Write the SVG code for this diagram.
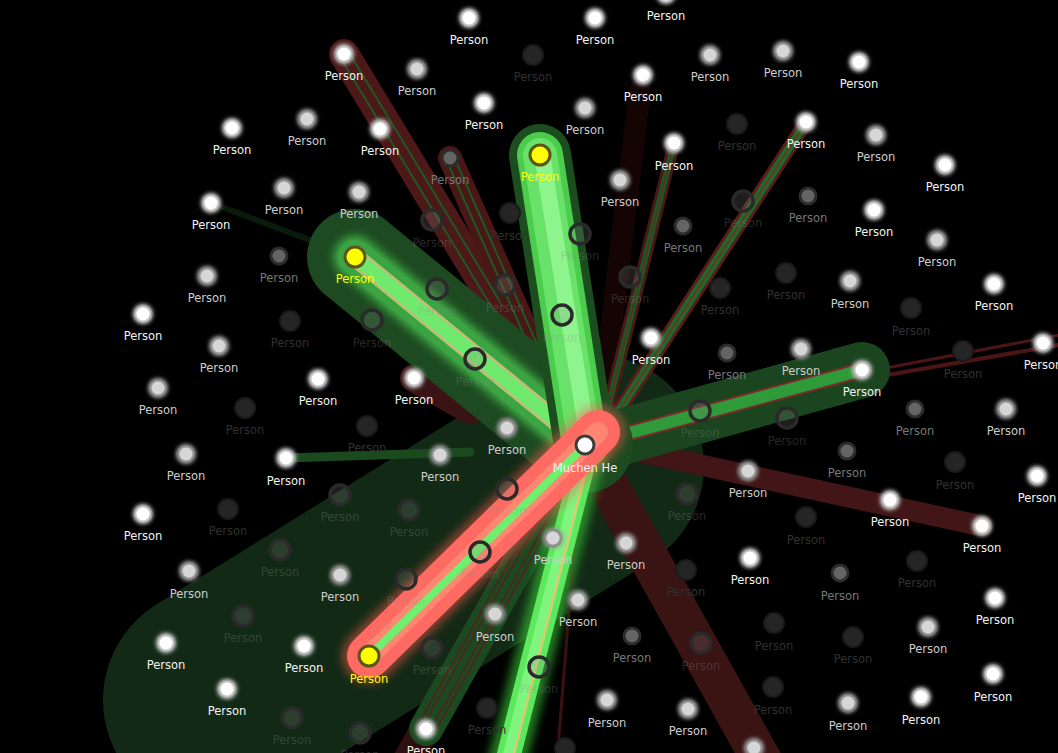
<svg xmlns="http://www.w3.org/2000/svg" width="1058" height="753" viewBox="0 0 1058 753">
<defs>
<filter id="glow" x="-1.5" y="-1.5" width="4" height="4"><feGaussianBlur in="SourceGraphic" stdDeviation="2.5" result="b"/><feMerge><feMergeNode in="b"/><feMergeNode in="b"/><feMergeNode in="SourceGraphic"/></feMerge></filter>
<filter id="blur" x="-0.5" y="-0.5" width="2" height="2"><feGaussianBlur stdDeviation="5"/></filter>
</defs>
<style>
text{font-family:"DejaVu Sans","Liberation Sans",sans-serif;font-size:11.5px;text-anchor:middle}
.w circle{fill:#fff;stroke:#9a9a9a;stroke-opacity:.55;stroke-width:3;filter:url(#glow)}
.w text{fill:#f2f2f2}
.l circle{fill:#d6d6d6;stroke:#707070;stroke-opacity:.6;stroke-width:3;filter:url(#glow)}
.l text{fill:#cdcdcd}
.m circle{fill:#646464;stroke:#2c2c2c;stroke-width:3}
.m text{fill:#777}
.d circle{fill:#252525;stroke:#1a1a1a;stroke-width:2}
.d text{fill:#303030}
.r circle{fill:#8a8a8a;fill-opacity:.22;stroke:#2a2a2a;stroke-width:3.5}
.r text{fill:#8a8a8a;fill-opacity:.3}
.y circle{fill:#ff0;stroke:#5c5516;stroke-width:3}
.y text{fill:#ff0}
.c circle{fill:#fff;stroke:#3c3c3c;stroke-width:3}
.c text{fill:#f2f2f2}
#connectors line{stroke-linecap:round}
</style>
<rect width="1058" height="753" fill="#000"/>
<g id="connectors">
<line x1="215" y1="700" x2="592" y2="466" stroke="#122a15" stroke-width="224"/>
<line x1="211" y1="203" x2="355" y2="257" stroke="#0a1a0c" stroke-width="6"/>
<line x1="640" y1="90" x2="600" y2="420" stroke="#140404" stroke-width="22"/>
<line x1="600" y1="470" x2="770" y2="775" stroke="#3a1313" stroke-width="40"/>
<line x1="578" y1="500" x2="557" y2="760" stroke="#3a1010" stroke-width="3"/>
<line x1="400" y1="775" x2="560" y2="480" stroke="#2e1010" stroke-width="30"/>
<line x1="595" y1="442" x2="982" y2="526" stroke="#421616" stroke-width="21"/>
<line x1="870" y1="378" x2="1070" y2="343" stroke="#4a1515" stroke-width="4"/>
<line x1="870" y1="371" x2="1070" y2="333" stroke="#4a1515" stroke-width="3"/>
<line x1="344" y1="54" x2="578" y2="440" stroke="#4d1818" stroke-width="30"/>
<line x1="348.3" y1="51.4" x2="582.3" y2="437.4" stroke="#1d5a25" stroke-width="2"/>
<line x1="339.7" y1="56.6" x2="573.7" y2="442.6" stroke="#1d5a25" stroke-width="2"/>
<line x1="450" y1="158" x2="575" y2="440" stroke="#4a1717" stroke-width="24"/>
<line x1="453.7" y1="156.4" x2="578.7" y2="438.4" stroke="#1d5a25" stroke-width="2"/>
<line x1="446.3" y1="159.6" x2="571.3" y2="441.6" stroke="#1d5a25" stroke-width="2"/>
<line x1="414" y1="378" x2="470" y2="410" stroke="#3a1414" stroke-width="28"/>
<line x1="806" y1="122" x2="600" y2="440" stroke="#5a1d1d" stroke-width="14"/>
<line x1="806" y1="122" x2="600" y2="440" stroke="#1e6a28" stroke-width="8"/>
<line x1="806" y1="122" x2="600" y2="440" stroke="#7a2a2a" stroke-width="1.5"/>
<line x1="674" y1="143" x2="600" y2="440" stroke="#4a1818" stroke-width="12"/>
<line x1="674" y1="143" x2="600" y2="440" stroke="#1a5a22" stroke-width="6"/>
<line x1="674" y1="143" x2="600" y2="440" stroke="#6a2424" stroke-width="1.2"/>
<line x1="426" y1="729" x2="585" y2="445" stroke="#1b4a20" stroke-width="34"/>
<line x1="429.5" y1="731" x2="588.5" y2="447" stroke="#5a1d1d" stroke-width="1.5"/>
<line x1="422.5" y1="727" x2="581.5" y2="443" stroke="#5a1d1d" stroke-width="1.5"/>
<line x1="433.8" y1="733.4" x2="592.8" y2="449.4" stroke="#5a1d1d" stroke-width="1.5"/>
<line x1="418.2" y1="724.6" x2="577.2" y2="440.6" stroke="#5a1d1d" stroke-width="1.5"/>
<line x1="286" y1="458" x2="470" y2="452" stroke="#1a4a1e" stroke-width="9"/>
<line x1="592" y1="445" x2="862" y2="370" stroke="#1a451e" stroke-width="56"/>
<line x1="585" y1="445" x2="862" y2="370" stroke="#7a2a2a" stroke-width="16"/>
<line x1="585" y1="445" x2="862" y2="370" stroke="#2f9a3a" stroke-width="12"/>
<line x1="355" y1="257" x2="585" y2="445" stroke="#1d4a21" stroke-width="96"/>
<line x1="355" y1="257" x2="585" y2="445" stroke="#3fb045" stroke-width="42" filter="url(#blur)"/>
<line x1="355" y1="257" x2="585" y2="445" stroke="#3ca443" stroke-width="34"/>
<line x1="355" y1="257" x2="585" y2="445" stroke="#6fea6f" stroke-width="19"/>
<line x1="360.1" y1="250.8" x2="590.1" y2="438.8" stroke="#f6a07a" stroke-width="1.5"/>
<line x1="349.9" y1="263.2" x2="579.9" y2="451.2" stroke="#f6a07a" stroke-width="1.5"/>
<line x1="540" y1="155" x2="585" y2="445" stroke="#1c4d1f" stroke-width="62"/>
<line x1="540" y1="155" x2="585" y2="445" stroke="#4ccc4c" stroke-width="46"/>
<line x1="540" y1="155" x2="585" y2="445" stroke="#68e268" stroke-width="34"/>
<line x1="543" y1="160" x2="588" y2="440" stroke="#8ef48e" stroke-width="16"/>
<line x1="588" y1="445" x2="505" y2="770" stroke="#3acc3a" stroke-width="38" filter="url(#blur)" opacity=".6"/>
<line x1="588" y1="445" x2="505" y2="770" stroke="#5de85d" stroke-width="24"/>
<line x1="588" y1="445" x2="505" y2="770" stroke="#7ff57f" stroke-width="12"/>
<line x1="592" y1="445" x2="510" y2="770" stroke="#f0c070" stroke-width="2"/>
<line x1="369" y1="656" x2="598" y2="432" stroke="#ff5a50" stroke-width="54" filter="url(#blur)" opacity=".5"/>
<line x1="369" y1="656" x2="598" y2="432" stroke="#ff6a62" stroke-width="44"/>
<line x1="369" y1="656" x2="598" y2="432" stroke="#ffa080" stroke-width="20" opacity=".55"/>
<line x1="369" y1="656" x2="588" y2="443" stroke="#6ef06e" stroke-width="8"/>
</g>
<g id="nodes">
<g id="n1" class="w" transform="translate(469 18)"><circle r="8"/><text y="26">Person</text></g>
<g id="n2" class="l" transform="translate(535 -26)"><circle r="8"/><text y="26">Person</text></g>
<g id="n3" class="w" transform="translate(595 18)"><circle r="8"/><text y="26">Person</text></g>
<g id="n4" class="w" transform="translate(666 -6)"><circle r="8"/><text y="26">Person</text></g>
<g id="n5" class="d" transform="translate(533 55)"><circle r="10"/><text y="26">Person</text></g>
<g id="n6" class="l" transform="translate(417 69)"><circle r="8"/><text y="26">Person</text></g>
<g id="n7" class="w" transform="translate(344 54)"><circle r="8"/><text y="26">Person</text></g>
<g id="n8" class="w" transform="translate(484 103)"><circle r="8"/><text y="26">Person</text></g>
<g id="n9" class="l" transform="translate(585 108)"><circle r="8"/><text y="26">Person</text></g>
<g id="n10" class="w" transform="translate(643 75)"><circle r="8"/><text y="26">Person</text></g>
<g id="n11" class="l" transform="translate(710 55)"><circle r="8"/><text y="26">Person</text></g>
<g id="n12" class="l" transform="translate(783 51)"><circle r="8"/><text y="26">Person</text></g>
<g id="n13" class="w" transform="translate(859 62)"><circle r="8"/><text y="26">Person</text></g>
<g id="n14" class="d" transform="translate(737 124)"><circle r="10"/><text y="26">Person</text></g>
<g id="n15" class="w" transform="translate(806 122)"><circle r="8"/><text y="26">Person</text></g>
<g id="n16" class="l" transform="translate(876 135)"><circle r="8"/><text y="26">Person</text></g>
<g id="n17" class="w" transform="translate(945 165)"><circle r="8"/><text y="26">Person</text></g>
<g id="n18" class="w" transform="translate(674 143)"><circle r="8"/><text y="27">Person</text></g>
<g id="n19" class="l" transform="translate(620 180)"><circle r="8"/><text y="26">Person</text></g>
<g id="n20" class="y" transform="translate(540 155)"><circle r="10"/><text y="26">Person</text></g>
<g id="n21" class="w" transform="translate(380 129)"><circle r="8"/><text y="26">Person</text></g>
<g id="n22" class="m" transform="translate(450 158)"><circle r="8"/><text y="26">Person</text></g>
<g id="n23" class="l" transform="translate(307 119)"><circle r="8"/><text y="26">Person</text></g>
<g id="n24" class="w" transform="translate(232 128)"><circle r="8"/><text y="26">Person</text></g>
<g id="n25" class="l" transform="translate(284 188)"><circle r="8"/><text y="26">Person</text></g>
<g id="n26" class="l" transform="translate(359 192)"><circle r="8"/><text y="26">Person</text></g>
<g id="n27" class="w" transform="translate(211 203)"><circle r="8"/><text y="26">Person</text></g>
<g id="n28" class="r" transform="translate(432 220)"><circle r="10"/><text y="27">Person</text></g>
<g id="n29" class="d" transform="translate(510 213)"><circle r="10"/><text y="27">Person</text></g>
<g id="n30" class="r" transform="translate(580 234)"><circle r="10"/><text y="26">Person</text></g>
<g id="n31" class="m" transform="translate(683 226)"><circle r="8"/><text y="26">Person</text></g>
<g id="n32" class="r" transform="translate(743 201)"><circle r="10"/><text y="26">Person</text></g>
<g id="n33" class="m" transform="translate(808 196)"><circle r="8"/><text y="26">Person</text></g>
<g id="n34" class="w" transform="translate(874 210)"><circle r="8"/><text y="26">Person</text></g>
<g id="n35" class="l" transform="translate(937 240)"><circle r="8"/><text y="26">Person</text></g>
<g id="n36" class="d" transform="translate(786 273)"><circle r="10"/><text y="26">Person</text></g>
<g id="n37" class="l" transform="translate(850 281)"><circle r="8"/><text y="27">Person</text></g>
<g id="n38" class="w" transform="translate(994 284)"><circle r="8"/><text y="26">Person</text></g>
<g id="n39" class="d" transform="translate(720 288)"><circle r="10"/><text y="26">Person</text></g>
<g id="n40" class="r" transform="translate(630 277)"><circle r="10"/><text y="26">Person</text></g>
<g id="n41" class="r" transform="translate(505 285)"><circle r="10"/><text y="27">Person</text></g>
<g id="n42" class="r" transform="translate(437 289)"><circle r="10"/><text y="26">Person</text></g>
<g id="n43" class="y" transform="translate(355 257)"><circle r="10"/><text y="26">Person</text></g>
<g id="n44" class="m" transform="translate(279 256)"><circle r="8"/><text y="26">Person</text></g>
<g id="n45" class="l" transform="translate(207 276)"><circle r="8"/><text y="26">Person</text></g>
<g id="n46" class="w" transform="translate(143 314)"><circle r="8"/><text y="26">Person</text></g>
<g id="n47" class="d" transform="translate(290 321)"><circle r="10"/><text y="26">Person</text></g>
<g id="n48" class="r" transform="translate(372 320)"><circle r="10"/><text y="27">Person</text></g>
<g id="n49" class="r" transform="translate(562 315)"><circle r="10"/><text y="27">Person</text></g>
<g id="n50" class="w" transform="translate(651 338)"><circle r="8"/><text y="26">Person</text></g>
<g id="n51" class="m" transform="translate(727 353)"><circle r="8"/><text y="26">Person</text></g>
<g id="n52" class="l" transform="translate(801 349)"><circle r="8"/><text y="26">Person</text></g>
<g id="n53" class="w" transform="translate(862 370)"><circle r="8"/><text y="26">Person</text></g>
<g id="n54" class="d" transform="translate(911 308)"><circle r="10"/><text y="27">Person</text></g>
<g id="n55" class="d" transform="translate(963 351)"><circle r="10"/><text y="27">Person</text></g>
<g id="n56" class="w" transform="translate(1043 343)"><circle r="8"/><text y="26">Person</text></g>
<g id="n57" class="l" transform="translate(219 346)"><circle r="8"/><text y="26">Person</text></g>
<g id="n58" class="l" transform="translate(158 388)"><circle r="8"/><text y="26">Person</text></g>
<g id="n59" class="d" transform="translate(245 408)"><circle r="10"/><text y="26">Person</text></g>
<g id="n60" class="w" transform="translate(318 379)"><circle r="8"/><text y="26">Person</text></g>
<g id="n61" class="w" transform="translate(414 378)"><circle r="8"/><text y="26">Person</text></g>
<g id="n62" class="r" transform="translate(475 359)"><circle r="10"/><text y="27">Person</text></g>
<g id="n63" class="d" transform="translate(367 426)"><circle r="10"/><text y="26">Person</text></g>
<g id="n64" class="l" transform="translate(507 428)"><circle r="8"/><text y="26">Person</text></g>
<g id="n65" class="r" transform="translate(700 411)"><circle r="10"/><text y="26">Person</text></g>
<g id="n66" class="r" transform="translate(787 418)"><circle r="10"/><text y="27">Person</text></g>
<g id="n67" class="m" transform="translate(915 409)"><circle r="8"/><text y="26">Person</text></g>
<g id="n68" class="l" transform="translate(1006 409)"><circle r="8"/><text y="26">Person</text></g>
<g id="n69" class="m" transform="translate(847 451)"><circle r="8"/><text y="26">Person</text></g>
<g id="n70" class="d" transform="translate(955 462)"><circle r="10"/><text y="27">Person</text></g>
<g id="n71" class="w" transform="translate(1037 476)"><circle r="8"/><text y="26">Person</text></g>
<g id="n72" class="l" transform="translate(748 471)"><circle r="8"/><text y="26">Person</text></g>
<g id="n73" class="w" transform="translate(890 500)"><circle r="8"/><text y="26">Person</text></g>
<g id="n74" class="w" transform="translate(982 526)"><circle r="8"/><text y="26">Person</text></g>
<g id="n75" class="l" transform="translate(186 454)"><circle r="8"/><text y="26">Person</text></g>
<g id="n76" class="w" transform="translate(286 458)"><circle r="8"/><text y="27">Person</text></g>
<g id="n77" class="l" transform="translate(440 455)"><circle r="8"/><text y="26">Person</text></g>
<g id="n78" class="r" transform="translate(340 495)"><circle r="10"/><text y="26">Person</text></g>
<g id="n79" class="r" transform="translate(409 510)"><circle r="10"/><text y="26">Person</text></g>
<g id="n80" class="r" transform="translate(507 489)"><circle r="10"/><text y="26">Person</text></g>
<g id="n81" class="d" transform="translate(228 509)"><circle r="10"/><text y="26">Person</text></g>
<g id="n82" class="w" transform="translate(143 514)"><circle r="8"/><text y="26">Person</text></g>
<g id="n83" class="r" transform="translate(280 550)"><circle r="10"/><text y="26">Person</text></g>
<g id="n84" class="l" transform="translate(340 575)"><circle r="8"/><text y="26">Person</text></g>
<g id="n85" class="r" transform="translate(406 579)"><circle r="10"/><text y="26">Person</text></g>
<g id="n86" class="r" transform="translate(480 552)"><circle r="10"/><text y="26">Person</text></g>
<g id="n87" class="l" transform="translate(553 538)"><circle r="8"/><text y="26">Person</text></g>
<g id="n88" class="r" transform="translate(687 494)"><circle r="10"/><text y="26">Person</text></g>
<g id="n89" class="l" transform="translate(626 543)"><circle r="8"/><text y="26">Person</text></g>
<g id="n90" class="d" transform="translate(686 570)"><circle r="10"/><text y="26">Person</text></g>
<g id="n91" class="w" transform="translate(750 558)"><circle r="8"/><text y="26">Person</text></g>
<g id="n92" class="d" transform="translate(806 517)"><circle r="10"/><text y="27">Person</text></g>
<g id="n93" class="m" transform="translate(840 573)"><circle r="8"/><text y="27">Person</text></g>
<g id="n94" class="d" transform="translate(917 561)"><circle r="10"/><text y="26">Person</text></g>
<g id="n95" class="w" transform="translate(995 598)"><circle r="8"/><text y="26">Person</text></g>
<g id="n96" class="l" transform="translate(928 627)"><circle r="8"/><text y="26">Person</text></g>
<g id="n97" class="d" transform="translate(853 637)"><circle r="10"/><text y="26">Person</text></g>
<g id="n98" class="d" transform="translate(774 623)"><circle r="10"/><text y="27">Person</text></g>
<g id="n99" class="r" transform="translate(701 643)"><circle r="10"/><text y="27">Person</text></g>
<g id="n100" class="m" transform="translate(632 636)"><circle r="8"/><text y="26">Person</text></g>
<g id="n101" class="l" transform="translate(578 600)"><circle r="8"/><text y="26">Person</text></g>
<g id="n102" class="l" transform="translate(495 614)"><circle r="8"/><text y="27">Person</text></g>
<g id="n103" class="r" transform="translate(539 667)"><circle r="10"/><text y="26">Person</text></g>
<g id="n104" class="r" transform="translate(432 648)"><circle r="10"/><text y="26">Person</text></g>
<g id="n105" class="y" transform="translate(369 656)"><circle r="10"/><text y="27">Person</text></g>
<g id="n106" class="w" transform="translate(304 646)"><circle r="8"/><text y="26">Person</text></g>
<g id="n107" class="r" transform="translate(243 616)"><circle r="10"/><text y="26">Person</text></g>
<g id="n108" class="l" transform="translate(189 571)"><circle r="8"/><text y="27">Person</text></g>
<g id="n109" class="w" transform="translate(166 643)"><circle r="8"/><text y="26">Person</text></g>
<g id="n110" class="w" transform="translate(227 689)"><circle r="8"/><text y="26">Person</text></g>
<g id="n111" class="r" transform="translate(292 718)"><circle r="10"/><text y="26">Person</text></g>
<g id="n112" class="r" transform="translate(360 733)"><circle r="10"/><text y="26">Person</text></g>
<g id="n113" class="w" transform="translate(426 729)"><circle r="8"/><text y="26">Person</text></g>
<g id="n114" class="d" transform="translate(487 708)"><circle r="10"/><text y="26">Person</text></g>
<g id="n115" class="d" transform="translate(565 748)"><circle r="10"/><text y="26">Person</text></g>
<g id="n116" class="l" transform="translate(607 700)"><circle r="8"/><text y="27">Person</text></g>
<g id="n117" class="l" transform="translate(688 709)"><circle r="8"/><text y="26">Person</text></g>
<g id="n118" class="d" transform="translate(773 687)"><circle r="10"/><text y="27">Person</text></g>
<g id="n119" class="l" transform="translate(848 703)"><circle r="8"/><text y="27">Person</text></g>
<g id="n120" class="w" transform="translate(921 697)"><circle r="8"/><text y="27">Person</text></g>
<g id="n121" class="w" transform="translate(993 674)"><circle r="8"/><text y="27">Person</text></g>
<g id="n122" class="l" transform="translate(754 748)"><circle r="8"/><text y="26">Person</text></g>
<g id="center" class="c" transform="translate(585 445)"><circle r="9"/><text y="27">Muchen He</text></g>
</g>
</svg>
